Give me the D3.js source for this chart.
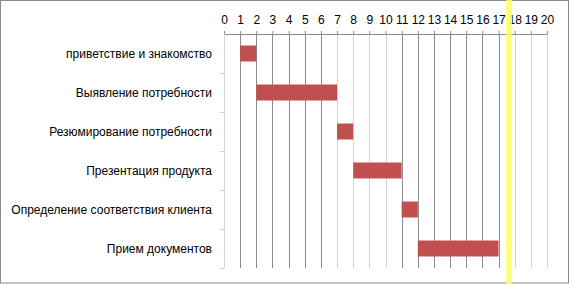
<!DOCTYPE html>
<html>
<head>
<meta charset="utf-8">
<script src="https://cdn.jsdelivr.net/npm/d3@7"></script>
<style>
  html, body { margin: 0; padding: 0; background: #fff; }
  svg { display: block; }
  text { font-family: "Liberation Sans", Arial, sans-serif; fill: #000; }
</style>
</head>
<body>
<div id="chart"></div>
<script>
// Gantt data: stage names, start offsets and durations
const stages = [
    'приветствие и знакомство',
    'Выявление потребности',
    'Резюмирование потребности',
    'Презентация продукта',
    'Определение соответствия клиента',
    'Прием документов'
];
const starts = [1, 2, 7, 8, 11, 12];
const durations = [1, 5, 1, 3, 1, 5];
const xTicks = d3.range(0, 21);
const todayMark = 17.65;

const width = 570, height = 284;
const margin = { top: 34, right: 23, bottom: 16, left: 224 };
const innerWidth = width - margin.left - margin.right;
const innerHeight = height - margin.top - margin.bottom;

const colors = {
    bar: '#c0504d',
    gridDark: '#8c8c8c',
    gridLight: '#d4d4d4',
    axis: '#8c8c8c',
    border: '#8a8a8a',
    today: '#ffff66'
};

const svg = d3.select('#chart')
    .append('svg')
    .attr('width', width)
    .attr('height', height);

const x = d3.scaleLinear().domain([0, 20]).range([0, innerWidth]);
const y = d3.scaleBand().domain(stages).range([0, innerHeight]).paddingInner(0.59).paddingOuter(0.295);

// outer frame
svg.append('rect')
    .attr('x', 0.5).attr('y', 0.5)
    .attr('width', 568).attr('height', 282.5)
    .attr('fill', 'none')
    .attr('stroke', colors.border);

const g = svg.append('g')
    .attr('transform', `translate(${margin.left},${margin.top})`);

// vertical gridlines (some darker, as in the source)
const darkTick = t => (t >= 1 && t <= 6) || (t >= 11 && t <= 17);
g.selectAll('line.grid')
    .data(xTicks.filter(t => t > 0))
    .enter().append('line')
    .attr('class', 'grid')
    .attr('x1', d => Math.round(x(d)) + 0.5)
    .attr('x2', d => Math.round(x(d)) + 0.5)
    .attr('y1', 0)
    .attr('y2', innerHeight)
    .attr('stroke', d => darkTick(d) ? colors.gridDark : colors.gridLight);

// top axis
g.append('g')
    .attr('class', 'x-axis')
    .call(d3.axisTop(x).tickValues(xTicks).tickSize(3).tickPadding(7).tickFormat(d3.format('d')))
    .call(a => a.select('.domain').attr('stroke', colors.axis).attr('d', `M0,0.5H${innerWidth}`))
    .call(a => a.selectAll('.tick line').attr('stroke', colors.axis))
    .call(a => a.selectAll('.tick text')
        .attr('fill', '#000')
        .style('font-size', '12px')
        .style('font-family', '"Liberation Sans", Arial, sans-serif'));

// left axis with ticks on category boundaries
const yBound = d3.scaleLinear().domain([0, stages.length]).range([0, innerHeight]);
g.append('g')
    .attr('class', 'y-axis')
    .call(d3.axisLeft(yBound).ticks(stages.length).tickSize(4).tickFormat(''))
    .call(a => a.select('.domain').attr('stroke', '#d4d4d4').attr('d', `M0.5,0V${innerHeight}`))
    .call(a => a.selectAll('.tick line').attr('stroke', '#d4d4d4'))
    .call(a => a.selectAll('.tick').filter(d => d === 0).remove());

// category labels
g.selectAll('text.cat')
    .data(stages)
    .enter().append('text')
    .attr('class', 'cat')
    .attr('x', -12)
    .attr('y', d => y(d) + y.bandwidth() / 2)
    .attr('dy', '0.35em')
    .attr('text-anchor', 'end')
    .style('font-size', '12px')
    .text(d => d);

// bars
g.selectAll('rect.bar')
    .data(stages.map((s, i) => ({ stage: s, start: starts[i], dur: durations[i] })))
    .enter().append('rect')
    .attr('class', 'bar')
    .attr('x', d => x(d.start))
    .attr('y', d => y(d.stage))
    .attr('width', d => x(d.start + d.dur) - x(d.start))
    .attr('height', y.bandwidth())
    .attr('fill', colors.bar);

// "today" marker spanning the whole frame
svg.append('rect')
    .attr('x', margin.left + x(todayMark) - 3)
    .attr('y', 0)
    .attr('width', 6)
    .attr('height', height)
    .attr('fill', colors.today)
    .attr('opacity', 0.85);
</script>
</body>
</html>
